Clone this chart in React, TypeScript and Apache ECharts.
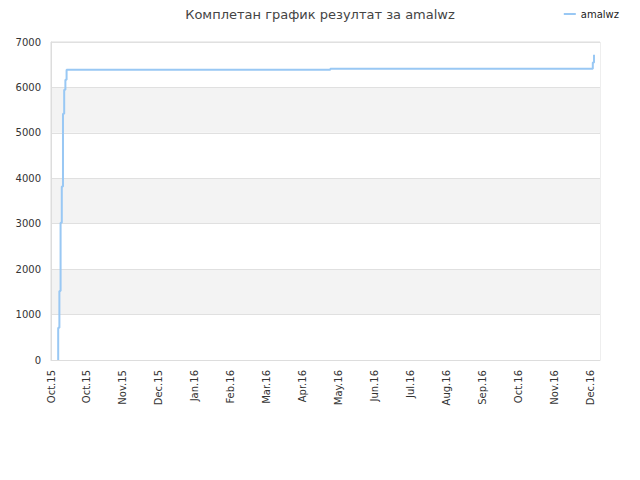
import React, { useEffect, useRef } from 'react'
import * as echarts from 'echarts'

// x = day index from the first tick, y = score (step line)
const dayIdx = [6, 6, 7, 8, 9, 10, 11, 12, 13, 233, 452, 453]
const scores = [0, 711, 1520, 3020, 3817, 5418, 5947, 6167, 6388, 6410, 6550, 6718]
const tickLabels = [
  'Oct.15', 'Oct.15', 'Nov.15', 'Dec.15', 'Jan.16', 'Feb.16', 'Mar.16', 'Apr.16',
  'May.16', 'Jun.16', 'Jul.16', 'Aug.16', 'Sep.16', 'Oct.16', 'Nov.16', 'Dec.16'
]

export default function App() {
  const ref = useRef<HTMLDivElement | null>(null)

  useEffect(() => {
    if (!ref.current) return
    const chart = echarts.init(ref.current, undefined, { renderer: 'svg' })

    const opt: echarts.EChartsOption = {
      animation: false,
      textStyle: { fontFamily: 'DejaVu Sans' },
      title: {
        text: 'Комплетан график резултат за amalwz',
        left: 'center',
        top: 3,
        textStyle: { fontSize: 13, fontWeight: 'normal', color: '#444' }
      },
      legend: {
        right: 16,
        top: 4,
        icon: 'rect',
        itemWidth: 12,
        itemHeight: 2,
        itemGap: 6,
        textStyle: { fontSize: 10, color: '#222' },
        data: ['amalwz']
      },
      grid: {
        left: 51, right: 40, top: 42, bottom: 120,
        show: true, borderColor: '#ddd', borderWidth: 1
      },
      xAxis: {
        type: 'value',
        min: 0,
        max: 458,
        interval: 30,
        splitLine: { show: false },
        axisLine: { show: true, lineStyle: { color: '#ddd' } },
        axisTick: { show: false },
        axisLabel: {
          rotate: 90,
          fontSize: 10,
          color: '#333',
          margin: 10,
          formatter: (v: number) => tickLabels[Math.round(v / 30)] ?? ''
        }
      },
      yAxis: {
        type: 'value',
        min: 0,
        max: 7000,
        interval: 1000,
        axisLine: { show: true, lineStyle: { color: '#ddd' } },
        axisTick: { show: false },
        axisLabel: { fontSize: 10, color: '#333', margin: 10, formatter: (v: number) => String(v) },
        splitLine: { show: true, lineStyle: { color: '#e0e0e0' } },
        splitArea: { show: true, areaStyle: { color: ['#ffffff', '#f3f3f3'] } }
      },
      series: [{
        name: 'amalwz',
        type: 'line',
        step: 'end',
        showSymbol: false,
        lineStyle: { color: '#99c8f4', width: 2 },
        itemStyle: { color: '#99c8f4' },
        data: dayIdx.map((d, i) => [d, scores[i]])
      }]
    }

    chart.setOption(opt)
    return () => { chart.dispose() }
  }, [])

  return <div ref={ref} style={{ width: 640, height: 480, margin: -8 }} />
}
